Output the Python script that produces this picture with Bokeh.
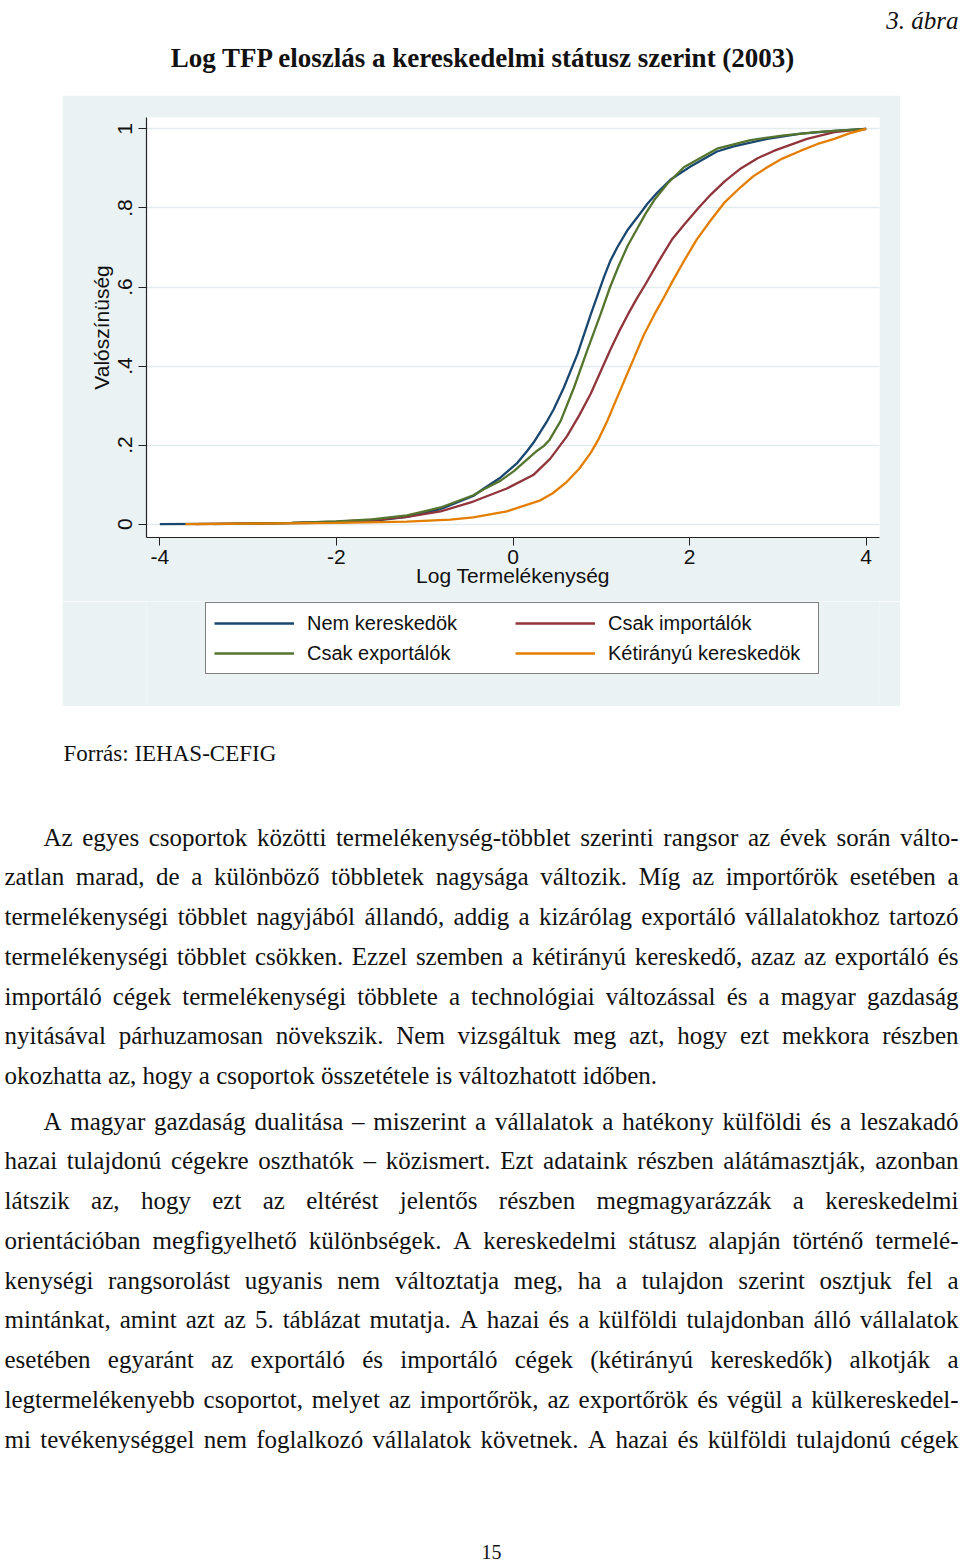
from bokeh.plotting import figure
from bokeh.models import Range1d, FixedTicker, Legend, LegendItem, Spacer, ColumnDataSource
from bokeh.layouts import column, row
from bokeh.embed import file_html
from bokeh.resources import INLINE
from bokeh.core.properties import value

# ---------------- data ----------------
nem_x = [-4.0, -3.0, -2.0, -1.58, -1.2, -0.82, -0.45, -0.33, -0.14, 0.05, 0.16, 0.235, 0.39, 0.46, 0.575, 0.73,
         0.88, 1.03, 1.1, 1.18, 1.3, 1.41, 1.52, 1.63, 1.785, 2.01, 2.31, 2.5, 2.88, 3.26, 3.64, 4.0]
nem_y = [0.0, 0.001, 0.004, 0.008, 0.018, 0.038, 0.071, 0.09, 0.118, 0.155, 0.185, 0.207, 0.262, 0.29, 0.345, 0.43,
         0.53, 0.625, 0.665, 0.70, 0.745, 0.777, 0.81, 0.838, 0.872, 0.905, 0.943, 0.956, 0.975, 0.988, 0.995, 1.0]

exp_x = [-3.4, -2.5, -2.0, -1.6, -1.2, -0.82, -0.45, -0.33, -0.14, 0.01, 0.27, 0.35, 0.41, 0.54, 0.69, 0.84,
         0.99, 1.1, 1.2, 1.3, 1.4, 1.5, 1.6, 1.75, 1.935, 2.31, 2.69, 3.07, 3.5, 4.0]
exp_y = [0.0, 0.003, 0.007, 0.012, 0.022, 0.042, 0.073, 0.088, 0.11, 0.134, 0.185, 0.198, 0.212, 0.261, 0.345, 0.439,
         0.53, 0.6, 0.655, 0.705, 0.745, 0.785, 0.82, 0.862, 0.903, 0.95, 0.972, 0.984, 0.993, 1.0]

imp_x = [-3.6, -2.5, -2.0, -1.5, -1.2, -0.82, -0.45, -0.07, 0.235, 0.42, 0.61, 0.75, 0.88, 1.0, 1.1, 1.2, 1.3,
         1.4, 1.5, 1.65, 1.8, 1.94, 2.1, 2.24, 2.4, 2.58, 2.77, 2.96, 3.33, 3.64, 4.0]
imp_y = [0.0, 0.003, 0.006, 0.012, 0.018, 0.032, 0.057, 0.09, 0.125, 0.165, 0.222, 0.275, 0.33, 0.39, 0.44, 0.487,
         0.53, 0.57, 0.607, 0.665, 0.72, 0.758, 0.8, 0.834, 0.868, 0.9, 0.926, 0.945, 0.975, 0.992, 1.0]

ket_x = [-3.71, -3.0, -2.0, -1.2, -0.71, -0.45, -0.07, 0.31, 0.45, 0.61, 0.75, 0.88, 0.97, 1.07, 1.16, 1.255,
         1.37, 1.48, 1.6, 1.71, 1.82, 1.94, 2.08, 2.24, 2.4, 2.58, 2.72, 2.88, 3.05, 3.26, 3.45, 3.64, 3.8, 4.0]
ket_y = [0.0, 0.001, 0.003, 0.006, 0.011, 0.017, 0.032, 0.06, 0.078, 0.107, 0.14, 0.18, 0.215, 0.262, 0.31, 0.36,
         0.42, 0.478, 0.53, 0.574, 0.62, 0.667, 0.72, 0.769, 0.815, 0.853, 0.88, 0.903, 0.925, 0.945, 0.962, 0.975,
         0.988, 1.0]

series_names = ["Nem kereskedök", "Csak importálók", "Csak exportálók", "Kétirányú kereskedök"]

x_ticks = [-4, -2, 0, 2, 4]
x_tick_labels = ["-4", "-2", "0", "2", "4"]
y_ticks = [0, 0.2, 0.4, 0.6, 0.8, 1]
y_tick_labels = ["0", ".2", ".4", ".6", ".8", "1"]

fig_label = "3. ábra"
chart_title = "Log TFP eloszlás a kereskedelmi státusz szerint (2003)"
x_label = "Log Termelékenység"
y_label = "Valószínüség"
source_note = "Forrás: IEHAS-CEFIG"
page_number = "15"

para1 = [
    "Az egyes csoportok közötti termelékenység-többlet szerinti rangsor az évek során válto-",
    "zatlan marad, de a különböző többletek nagysága változik. Míg az importőrök esetében a",
    "termelékenységi többlet nagyjából állandó, addig a kizárólag exportáló vállalatokhoz tartozó",
    "termelékenységi többlet csökken. Ezzel szemben a kétirányú kereskedő, azaz az exportáló és",
    "importáló cégek termelékenységi többlete a technológiai változással és a magyar gazdaság",
    "nyitásával párhuzamosan növekszik. Nem vizsgáltuk meg azt, hogy ezt mekkora részben",
    "okozhatta az, hogy a csoportok összetétele is változhatott időben.",
]
para2 = [
    "A magyar gazdaság dualitása – miszerint a vállalatok a hatékony külföldi és a leszakadó",
    "hazai tulajdonú cégekre oszthatók – közismert. Ezt adataink részben alátámasztják, azonban",
    "látszik az, hogy ezt az eltérést jelentős részben megmagyarázzák a kereskedelmi",
    "orientációban megfigyelhető különbségek. A kereskedelmi státusz alapján történő termelé-",
    "kenységi rangsorolást ugyanis nem változtatja meg, ha a tulajdon szerint osztjuk fel a",
    "mintánkat, amint azt az 5. táblázat mutatja. A hazai és a külföldi tulajdonban álló vállalatok",
    "esetében egyaránt az exportáló és importáló cégek (kétirányú kereskedők) alkotják a",
    "legtermelékenyebb csoportot, melyet az importőrök, az exportőrök és végül a külkereskedel-",
    "mi tevékenységgel nem foglalkozó vállalatok követnek. A hazai és külföldi tulajdonú cégek",
]

# ---------------- styles / layout ----------------
PAGE_W = 960
TOP_H = 95
CHART_LEFT = 62
CHART_W, CHART_H = 838, 611
PLOT_H = 506                      # chart part above the legend
LEG_H = CHART_H - PLOT_H          # legend strip of the grey graph region
BODY_TOP = TOP_H + CHART_H
BODY_H = 1562 - BODY_TOP
GRAY = "#eaf2f3"
COLORS = ["#1a476f", "#90353b", "#55752f", "#e37e00"]
SANS = "Liberation Sans"
SERIF = "Liberation Serif"
INK = "#111111"


def blank(width, height, fill="white"):
    f = figure(width=width, height=height, x_range=Range1d(0, width), y_range=Range1d(height, 0),
               output_backend="svg", toolbar_location=None, min_border=0,
               x_axis_location=None, y_axis_location=None,
               border_fill_color=fill, background_fill_color=fill)
    f.grid.visible = False
    f.outline_line_color = None
    return f


# ---------------- top part: label + title ----------------
top = blank(PAGE_W, TOP_H)
top.text(x=[958], y=[20], text=[fig_label], text_font=value(SERIF), text_font_size="25px",
         text_font_style="italic", text_align="right", text_baseline="alphabetic", text_color=INK)
top.text(x=[483], y=[57], text=[chart_title], text_font=value(SERIF), text_font_size="27px",
         text_font_style="bold", text_align="center", text_baseline="alphabetic", text_color=INK)

# ---------------- chart ----------------
p = figure(width=CHART_W, height=PLOT_H, x_range=Range1d(-4.151, 4.151), y_range=Range1d(-0.034, 1.029),
           output_backend="svg", toolbar_location=None,
           min_border_left=84, min_border_right=21, min_border_top=22, min_border_bottom=64,
           border_fill_color=GRAY, background_fill_color="white")
p.outline_line_color = None

r_nem = p.line(nem_x, nem_y, line_color=COLORS[0], line_width=2.3)
r_imp = p.line(imp_x, imp_y, line_color=COLORS[1], line_width=2.3)
r_exp = p.line(exp_x, exp_y, line_color=COLORS[2], line_width=2.3)
r_ket = p.line(ket_x, ket_y, line_color=COLORS[3], line_width=2.3)

p.xgrid.visible = False
p.ygrid.ticker = FixedTicker(ticks=y_ticks)
p.ygrid.grid_line_color = "#e2ebed"
p.ygrid.grid_line_width = 1.5

for ax in (p.xaxis[0], p.yaxis[0]):
    ax.axis_line_color = "#222222"
    ax.axis_line_width = 1.2
    ax.major_tick_line_color = "#222222"
    ax.major_tick_out = 8
    ax.major_tick_in = 0
    ax.minor_tick_out = 0
    ax.minor_tick_in = 0
    ax.major_label_text_font = SANS
    ax.major_label_text_font_size = "21px"
    ax.major_label_text_color = INK
    ax.axis_label_text_font = SANS
    ax.axis_label_text_font_size = "21px"
    ax.axis_label_text_font_style = "normal"
    ax.axis_label_text_color = INK

p.xaxis.ticker = FixedTicker(ticks=x_ticks)
p.xaxis.major_label_overrides = {t: lab for t, lab in zip(x_ticks, x_tick_labels)}
p.xaxis.axis_label = x_label
p.xaxis.major_label_standoff = 4
p.xaxis.axis_label_standoff = -3

p.yaxis.ticker = FixedTicker(ticks=y_ticks)
p.yaxis.major_label_overrides = {t: lab for t, lab in zip(y_ticks, y_tick_labels)}
p.yaxis.major_label_orientation = "vertical"
p.yaxis.axis_label = y_label
p.yaxis.major_label_standoff = 6
p.yaxis.axis_label_standoff = 3

# ---------------- legend strip (part of the grey graph region) ----------------
# (its frame is aligned with the chart frame by the column layout)
leg = figure(width=CHART_W, height=LEG_H, x_range=Range1d(-4.151, 4.151), y_range=Range1d(2, 3),
             output_backend="svg", toolbar_location=None, min_border=0,
             x_axis_location=None, y_axis_location=None,
             border_fill_color=GRAY, background_fill_color=GRAY)
leg.grid.visible = False
leg.outline_line_color = None
k_nem = leg.line(nem_x, nem_y, line_color=COLORS[0], line_width=2.3, visible=False)
k_imp = leg.line(imp_x, imp_y, line_color=COLORS[1], line_width=2.3, visible=False)
k_exp = leg.line(exp_x, exp_y, line_color=COLORS[2], line_width=2.3, visible=False)
k_ket = leg.line(ket_x, ket_y, line_color=COLORS[3], line_width=2.3, visible=False)

legend = Legend(
    items=[LegendItem(label=series_names[0], renderers=[k_nem]),
           LegendItem(label=series_names[1], renderers=[k_imp]),
           LegendItem(label=series_names[2], renderers=[k_exp]),
           LegendItem(label=series_names[3], renderers=[k_ket])],
    orientation="horizontal", ncols=2, location=(59, 32),
    label_text_font=SANS, label_text_font_size="20px", label_text_color=INK,
    glyph_width=80, glyph_height=24, label_height=24, label_width=202, label_standoff=13,
    spacing=6, padding=8, margin=0,
    border_line_color="black", border_line_width=1,
    background_fill_color="white", background_fill_alpha=1.0,
)
leg.add_layout(legend, "center")

chart_row = row(Spacer(width=CHART_LEFT, height=CHART_H), column(p, leg),
                Spacer(width=PAGE_W - CHART_LEFT - CHART_W, height=CHART_H))

# ---------------- body text ----------------
W = {}
for ch, w in zip("abcdefghijklmnopqrstuvwxyz",
                 [444, 500, 444, 500, 444, 333, 500, 500, 278, 278, 500, 278, 778, 500, 500, 500, 500, 333, 389,
                  278, 500, 500, 722, 500, 500, 444]):
    W[ch] = w
for ch, w in zip("ABCDEFGHIJKLMNOPQRSTUVWXYZ",
                 [722, 667, 667, 722, 611, 556, 722, 722, 333, 389, 722, 611, 889, 722, 722, 556, 722, 667, 556,
                  611, 722, 722, 944, 722, 722, 611]):
    W[ch] = w
W.update({" ": 250, ".": 250, ",": 250, ":": 278, ";": 278, "-": 333, "–": 500, "(": 333, ")": 333})
for d in "0123456789":
    W[d] = 500
ACC = {"á": "a", "é": "e", "í": "i", "ó": "o", "ö": "o", "ő": "o", "ú": "u", "ü": "u", "ű": "u",
       "Á": "A", "É": "E", "Í": "I", "Ó": "O", "Ö": "O", "Ő": "O", "Ú": "U", "Ü": "U", "Ű": "U"}


def text_w(s, size):
    return sum(W.get(ACC.get(c, c), 500) for c in s) * size / 1000.0


BODY_SIZE = 25
LEFT, RIGHT, INDENT = 4, 958, 43

left_words = dict(x=[], y=[], text=[])
right_words = dict(x=[], y=[], text=[])


def place_line(line, x0, x1, y, justify):
    if not justify:
        left_words["x"].append(x0)
        left_words["y"].append(y)
        left_words["text"].append(line)
        return
    words = line.split(" ")
    widths = [text_w(w, BODY_SIZE) for w in words]
    gap = (x1 - x0 - sum(widths)) / (len(words) - 1)
    x = x0
    for i, (w, wd) in enumerate(zip(words, widths)):
        if i == len(words) - 1:
            right_words["x"].append(x1)
            right_words["y"].append(y)
            right_words["text"].append(w)
        else:
            left_words["x"].append(x)
            left_words["y"].append(y)
            left_words["text"].append(w)
        x += wd + gap


# baselines in page pixels
p1_base = [836.5, 876, 916, 956, 995.5, 1035, 1075]
p2_base = [1120.5, 1160, 1200, 1240, 1279.5, 1319, 1359, 1398.5, 1438.5]
for i, (line, y) in enumerate(zip(para1, p1_base)):
    place_line(line, INDENT if i == 0 else LEFT, RIGHT, y - BODY_TOP, justify=(i != len(para1) - 1))
for i, (line, y) in enumerate(zip(para2, p2_base)):
    place_line(line, INDENT if i == 0 else LEFT, RIGHT, y - BODY_TOP, justify=True)

body = blank(PAGE_W, BODY_H)
body.text(x="x", y="y", text="text", source=ColumnDataSource(left_words), text_font=value(SERIF),
          text_font_size=f"{BODY_SIZE}px", text_align="left", text_baseline="alphabetic", text_color=INK)
body.text(x="x", y="y", text="text", source=ColumnDataSource(right_words), text_font=value(SERIF),
          text_font_size=f"{BODY_SIZE}px", text_align="right", text_baseline="alphabetic", text_color=INK)
body.text(x=[63], y=[753 - BODY_TOP], text=[source_note], text_font=value(SERIF), text_font_size="23px",
          text_align="left", text_baseline="alphabetic", text_color=INK)
body.text(x=[491], y=[1551 - BODY_TOP], text=[page_number], text_font=value(SERIF), text_font_size="20px",
          text_align="center", text_baseline="alphabetic", text_color=INK)

layout = column(top, chart_row, body)

open("out.html", "w").write(file_html(layout, INLINE))
